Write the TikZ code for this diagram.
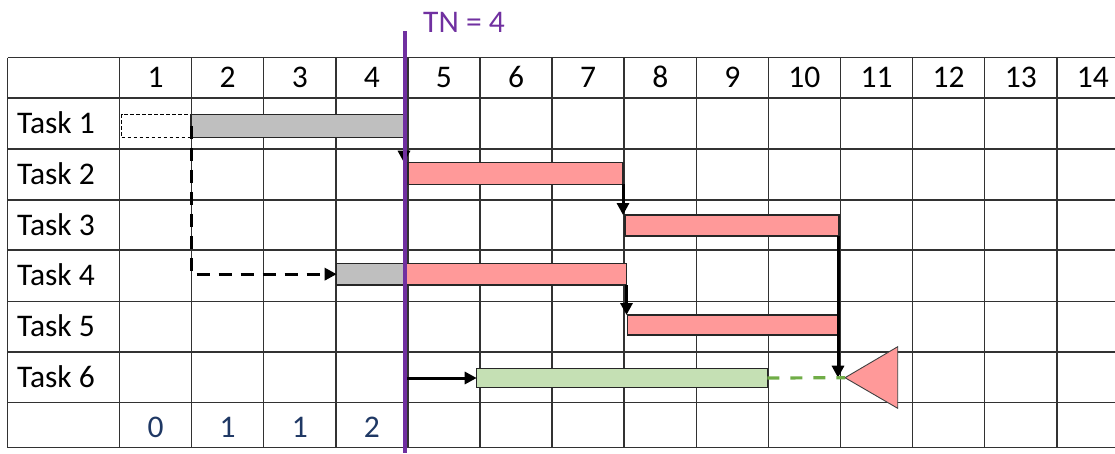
\documentclass[tikz,border=0pt]{standalone}
\usepackage{fontspec}
\setmainfont{Carlito}
\usetikzlibrary{arrows.meta}
\definecolor{gridc}{RGB}{50,50,50}
\definecolor{tnpurple}{RGB}{112,48,160}
\definecolor{barpink}{RGB}{255,153,153}
\definecolor{bargray}{RGB}{191,191,191}
\definecolor{bargreen}{RGB}{197,224,180}
\definecolor{dashgreen}{RGB}{112,173,71}
\definecolor{navyc}{RGB}{31,56,100}
\begin{document}
\begin{tikzpicture}[x=1pt,y=-1pt,
  gridline/.style={draw=gridc, line width=1.5pt},
  bar/.style={draw=black!85, line width=1.1pt, inner sep=0pt, outer sep=0pt, anchor=north west},
  lbl/.style={font=\fontsize{31.5}{36}\selectfont, inner sep=0pt, anchor=base},
  dep/.style={draw=black, line width=3pt, -{Triangle[length=12pt,width=12pt]}},
  depdash/.style={dep, dash pattern=on 13pt off 9pt}
]
\useasboundingbox (0,0) rectangle (1115,453);
% grid
\foreach \y in {57.5,98,149,200,250,301.5,352,402.5,447.5}
  \draw[gridline] (7.5,\y) -- (1115,\y);
\draw[gridline] (7.5,57.5) -- (7.5,447.5);
\foreach \k in {0,...,13}
  \draw[gridline] ({119.5+72.1*\k},57.5) -- ({119.5+72.1*\k},447.5);
% header numbers
\foreach \i in {1,...,14}
  \node[lbl] (h\i) at ({119.5+72.1*(\i-0.5)},87.8) {\i};
% task labels
\foreach \t/\y in {1/133.5,2/184.5,3/235,4/285.7,5/336.7,6/387}
  \node[lbl, anchor=base west] (task\t) at (17,\y) {Task \t};
% bottom numbers
\foreach \i/\v in {1/0,2/1,3/1,4/2}
  \node[lbl, text=navyc] (s\i) at ({119.5+72.1*(\i-0.5)},437) {\v};
% bars
\node[bar, draw=black, line width=0.9pt, dash pattern=on 3.5pt off 2.5pt, fill=white,
      minimum width=69.6pt, minimum height=23pt] (b1d) at (121.7,114.3) {};
\node[bar, fill=bargray, minimum width=213pt, minimum height=23pt] (b1) at (191,114.3) {};
\node[bar, fill=barpink, minimum width=215pt, minimum height=21.6pt] (b2) at (408,162.7) {};
\node[bar, fill=barpink, minimum width=214pt, minimum height=21pt] (b3) at (625,215) {};
\node[bar, fill=bargray, minimum width=68.3pt, minimum height=21.7pt] (b4g) at (336.7,263.3) {};
\node[bar, fill=barpink, minimum width=221pt, minimum height=21.7pt] (b4) at (405.5,263.3) {};
\node[bar, fill=barpink, minimum width=210pt, minimum height=20pt] (b5) at (627.3,315) {};
\node[bar, fill=bargreen, minimum width=290.6pt, minimum height=19.4pt] (b6) at (476.7,368.3) {};
% milestone triangle
\coordinate (tri) at (845,377.7);
\draw[draw=black!75, line width=0.9pt, fill=barpink] (tri) -- (897.7,346.7) -- (897.7,408.3) -- cycle;
% dependencies
\draw[depdash] (b1.west) |- (b4g.west);
\draw[dep] (b1.south east) -- (b1.south east |- b2.north);
\draw[dep] (b2.south east) -- (b2.south east |- b3.north);
\draw[dep] (b4.south east) -- (b4.south east |- b5.north);
\draw[dep] ([xshift=-1pt]b3.south east) -- ([xshift=-1pt]b3.south east |- tri);
\draw[draw=dashgreen, line width=3.2pt, dash pattern=on 12pt off 11pt] (b6.east) -- (tri);
% TN line
\coordinate (tntop) at (405,31);
\coordinate (tnbot) at (405,453);
\coordinate (tn6) at (407,378);
\draw[dep] (tn6) -- (b6.west);
\draw[draw=tnpurple, line width=3.8pt] (tntop) -- (tnbot);
\node[lbl, anchor=base west, text=tnpurple] (tn) at (423,32.5) {TN = 4};
\end{tikzpicture}
\end{document}
